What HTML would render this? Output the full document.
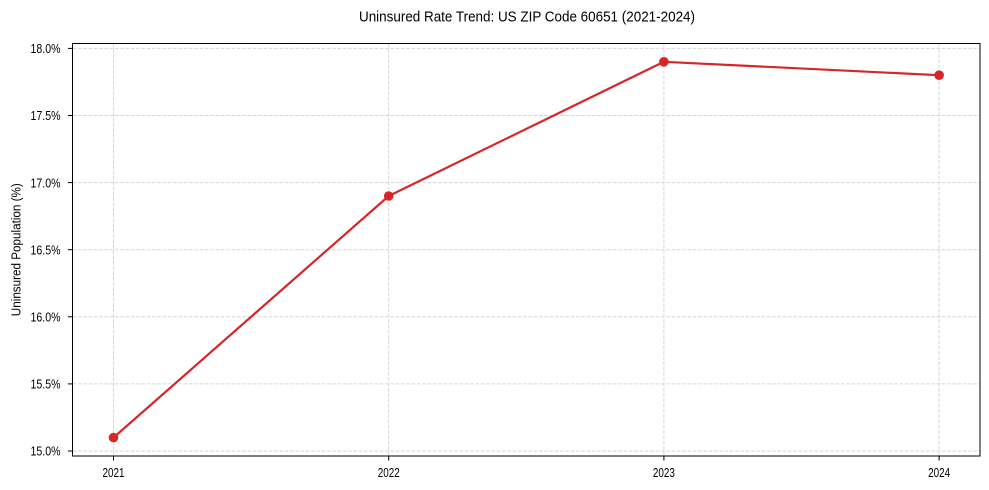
<!DOCTYPE html>
<html>
<head>
<meta charset="utf-8">
<style>
html,body{margin:0;padding:0;background:#fff;}
svg{display:block;}
text{font-family:"Liberation Sans",Arial,sans-serif;fill:#000;}
</style>
</head>
<body>
<svg width="989" height="490" viewBox="0 0 989 490" xmlns="http://www.w3.org/2000/svg">
<rect x="0" y="0" width="989" height="490" fill="#fff"/>
<!-- grid -->
<g stroke="#d6d6d6" stroke-width="1" stroke-dasharray="3.7,1.6" fill="none">
<line x1="113.5" y1="43.5" x2="113.5" y2="456"/>
<line x1="388.7" y1="43.5" x2="388.7" y2="456"/>
<line x1="663.9" y1="43.5" x2="663.9" y2="456"/>
<line x1="939.1" y1="43.5" x2="939.1" y2="456"/>
<line x1="72.5" y1="48.4" x2="980" y2="48.4"/>
<line x1="72.5" y1="115.5" x2="980" y2="115.5"/>
<line x1="72.5" y1="182.6" x2="980" y2="182.6"/>
<line x1="72.5" y1="249.7" x2="980" y2="249.7"/>
<line x1="72.5" y1="316.8" x2="980" y2="316.8"/>
<line x1="72.5" y1="383.9" x2="980" y2="383.9"/>
<line x1="72.5" y1="451.0" x2="980" y2="451.0"/>
</g>
<!-- series -->
<polyline points="113.5,437.6 388.7,196.0 663.9,61.8 939.1,75.2" fill="none" stroke="#d62728" stroke-width="2.2" stroke-linejoin="round" stroke-linecap="round"/>
<g fill="#d62728">
<circle cx="113.5" cy="437.6" r="4.8"/>
<circle cx="388.7" cy="196.0" r="4.8"/>
<circle cx="663.9" cy="61.8" r="4.8"/>
<circle cx="939.1" cy="75.2" r="4.8"/>
</g>
<!-- spines -->
<rect x="72.5" y="43.5" width="907.5" height="412.5" fill="none" stroke="#000" stroke-width="1"/>
<!-- ticks -->
<g stroke="#000" stroke-width="1">
<line x1="68" y1="48.4" x2="72.5" y2="48.4"/>
<line x1="68" y1="115.5" x2="72.5" y2="115.5"/>
<line x1="68" y1="182.6" x2="72.5" y2="182.6"/>
<line x1="68" y1="249.7" x2="72.5" y2="249.7"/>
<line x1="68" y1="316.8" x2="72.5" y2="316.8"/>
<line x1="68" y1="383.9" x2="72.5" y2="383.9"/>
<line x1="68" y1="451.0" x2="72.5" y2="451.0"/>
<line x1="113.5" y1="456" x2="113.5" y2="460.5"/>
<line x1="388.7" y1="456" x2="388.7" y2="460.5"/>
<line x1="663.9" y1="456" x2="663.9" y2="460.5"/>
<line x1="939.1" y1="456" x2="939.1" y2="460.5"/>
</g>
<!-- y tick labels -->
<g font-size="13" text-anchor="end">
<text x="60.5" y="53.1" textLength="30" lengthAdjust="spacingAndGlyphs">18.0%</text>
<text x="60.5" y="120.2" textLength="30" lengthAdjust="spacingAndGlyphs">17.5%</text>
<text x="60.5" y="187.3" textLength="30" lengthAdjust="spacingAndGlyphs">17.0%</text>
<text x="60.5" y="254.4" textLength="30" lengthAdjust="spacingAndGlyphs">16.5%</text>
<text x="60.5" y="321.5" textLength="30" lengthAdjust="spacingAndGlyphs">16.0%</text>
<text x="60.5" y="388.6" textLength="30" lengthAdjust="spacingAndGlyphs">15.5%</text>
<text x="60.5" y="455.7" textLength="30" lengthAdjust="spacingAndGlyphs">15.0%</text>
</g>
<!-- x tick labels -->
<g font-size="13">
<text x="102.5" y="477" textLength="22" lengthAdjust="spacingAndGlyphs">2021</text>
<text x="377.7" y="477" textLength="22" lengthAdjust="spacingAndGlyphs">2022</text>
<text x="652.9" y="477" textLength="22" lengthAdjust="spacingAndGlyphs">2023</text>
<text x="928.1" y="477" textLength="22" lengthAdjust="spacingAndGlyphs">2024</text>
</g>
<!-- y axis label -->
<text transform="translate(20.5,249.7) rotate(-90)" font-size="13" text-anchor="middle" textLength="133" lengthAdjust="spacingAndGlyphs">Uninsured Population (%)</text>
<!-- title -->
<text x="359" y="21.7" font-size="15" textLength="336" lengthAdjust="spacingAndGlyphs">Uninsured Rate Trend: US ZIP Code 60651 (2021-2024)</text>
</svg>
</body>
</html>
